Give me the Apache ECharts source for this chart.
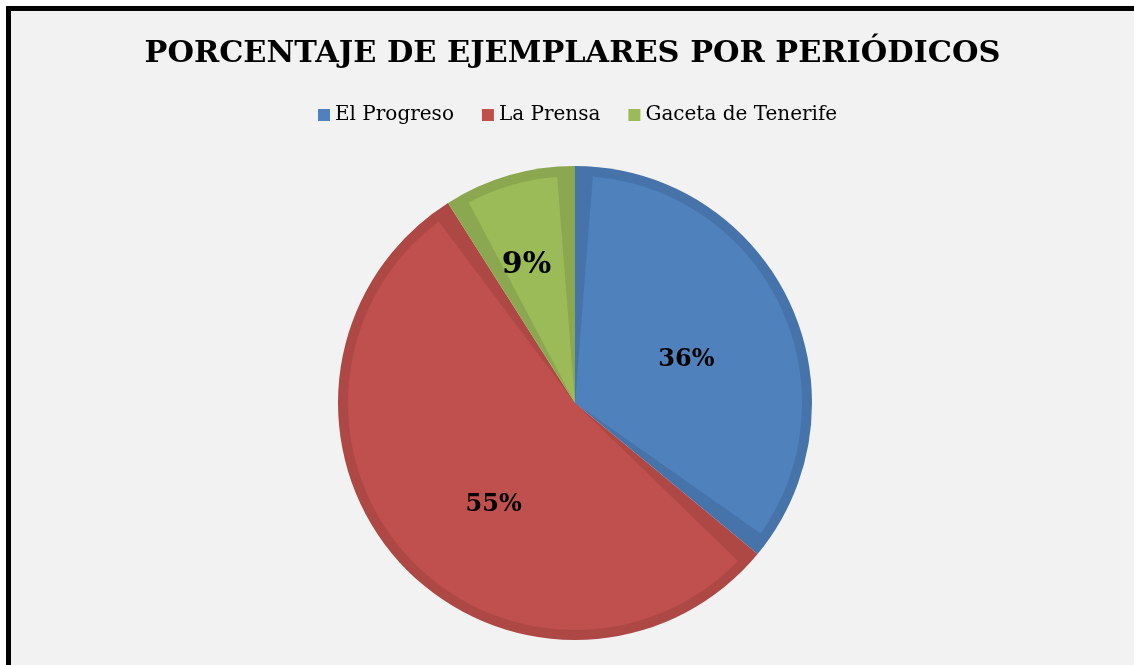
<!DOCTYPE html>
<html>
<head>
<meta charset="utf-8">
<script src="https://cdn.jsdelivr.net/npm/echarts@6/dist/echarts.min.js"></script>
<style>
  html, body { margin: 0; padding: 0; background: #ffffff; overflow: hidden; }
  #frame { position: absolute; left: 6px; top: 6px; width: 1140px; height: 670px;
           border-left: 5px solid #000; border-top: 5px solid #000; background: #f2f2f2; }
  #chart { position: absolute; left: 0; top: 0; width: 1123px; height: 654px; }
</style>
</head>
<body>
<div id="frame"><div id="chart"></div></div>
<script>
const titleText = 'PORCENTAJE DE EJEMPLARES POR PERIÓDICOS';
const categories = ['El Progreso', 'La Prensa', 'Gaceta de Tenerife'];
const values = [36, 55, 9];
const fillColors = ['#4f81bd', '#c0504d', '#9bbb59'];
const edgeColors = ['#4673aa', '#ad4845', '#8ba74f'];
const labelSizes = [24, 24, 30];
const labelOffsets = [[6, 6], [6, 25], [-16, -26]];

const chart = echarts.init(document.getElementById('chart'));
const serif = '"DejaVu Serif", "Liberation Serif", serif';

const lightData = categories.map((c, i) => ({
  name: c, value: values[i],
  itemStyle: { color: fillColors[i] },
  label: { fontSize: labelSizes[i], offset: labelOffsets[i] }
}));
const darkData = categories.map((c, i) => ({
  name: c, value: values[i], itemStyle: { color: edgeColors[i] }
}));

chart.setOption({
  backgroundColor: '#f2f2f2',
  animation: false,
  title: {
    text: titleText,
    left: 'center',
    top: 23,
    textStyle: { fontFamily: serif, fontWeight: 'bold', fontSize: 30.4, color: '#000' }
  },
  legend: {
    data: categories,
    top: 89,
    left: 302,
    itemWidth: 12,
    itemHeight: 12,
    itemGap: 28,
    itemTextGap: 6,
    icon: 'rect',
    textStyle: { fontFamily: serif, fontSize: 20, color: '#000' }
  },
  series: [
    {
      type: 'pie',
      z: 3,
      center: [564, 392],
      radius: 227,
      padAngle: 9,
      startAngle: 90,
      clockwise: true,
      silent: true,
      data: lightData,
      labelLine: { show: false },
      label: {
        show: true,
        position: 'inside',
        fontFamily: serif,
        fontWeight: 'bold',
        color: '#000',
        formatter: p => Math.round(p.percent) + '%'
      }
    },
    {
      type: 'pie',
      z: 2,
      center: [564, 392],
      radius: 237,
      startAngle: 90,
      clockwise: true,
      silent: true,
      data: darkData,
      label: { show: false },
      labelLine: { show: false }
    }
  ]
});
</script>
</body>
</html>
